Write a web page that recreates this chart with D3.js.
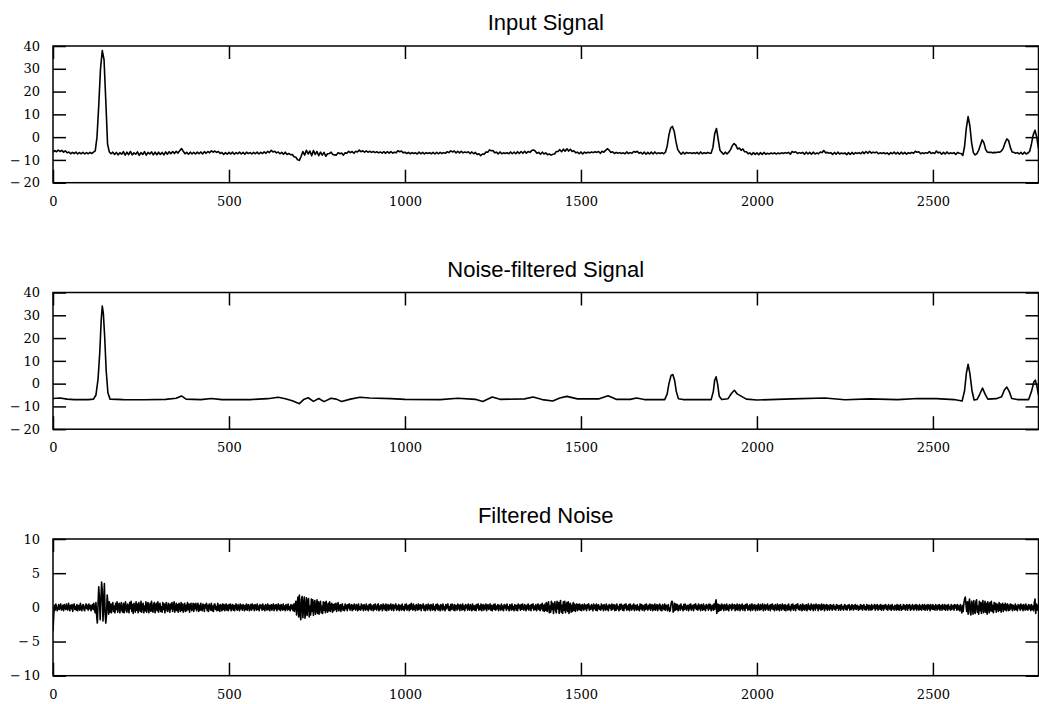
<!DOCTYPE html>
<html>

<head>
  <meta charset="utf-8">
  <title>Signal Filtering</title>
  <script src="https://cdn.jsdelivr.net/npm/d3@7/dist/d3.min.js"></script>
</head>

<body>
  <main id="container"></main>

  <script type="text/javascript">
    const signalStep = 5;

    const inputSignal = [
      -6.6, -5.9, -6.4, -5.7, -6.3, -5.8, -6.6, -6.0, -6.9, -6.5, -7.3, -6.7, -7.2, -6.6, -7.4, -6.8, -7.3, -6.7, -7.4, -6.8, // 0
      -7.3, -6.7, -7.2, -6.6, -6.0, 0.0, 14.0, 30.0, 38.0, 34.0, 16.0, -3.0, -6.5, -7.3, -6.6, -7.6, -6.7, -7.8, -6.8, -7.5, // 100
      -6.4, -7.9, -6.6, -7.7, -6.3, -7.8, -6.9, -7.5, -6.5, -8.0, -6.8, -7.6, -6.4, -7.9, -6.7, -7.4, -6.5, -7.8, -6.6, -7.7, // 200
      -6.6, -7.6, -6.7, -7.8, -6.5, -7.5, -6.4, -7.3, -6.3, -7.2, -6.2, -7.0, -6.0, -5.0, -6.2, -7.3, -6.7, -7.5, -6.6, -7.4, // 300
      -6.7, -7.4, -6.6, -7.3, -6.5, -7.4, -6.4, -7.1, -6.3, -6.9, -6.0, -6.6, -6.1, -6.7, -6.3, -7.2, -6.7, -7.6, -6.8, -7.5, // 400
      -6.7, -7.4, -6.6, -7.5, -6.8, -7.3, -6.6, -7.4, -6.7, -7.5, -6.6, -7.2, -6.8, -7.4, -6.7, -7.3, -6.6, -7.4, -6.7, -7.2, // 500
      -6.5, -7.1, -6.2, -6.8, -5.8, -6.5, -6.2, -6.9, -6.5, -7.3, -6.7, -7.5, -6.6, -7.6, -7.2, -7.7, -7.6, -8.6, -8.8, -9.9, // 600
      -10.2, -8.4, -6.3, -7.9, -5.8, -7.4, -6.1, -8.2, -5.9, -7.6, -6.3, -8.1, -6.6, -7.9, -6.7, -8.4, -7.3, -7.2, -6.6, -7.6, // 700
      -7.8, -7.9, -6.8, -7.3, -7.0, -7.9, -6.9, -7.1, -6.2, -6.8, -6.3, -7.1, -6.2, -6.5, -5.7, -6.4, -6.0, -6.6, -6.1, -6.6, // 800
      -6.2, -6.7, -6.3, -6.8, -6.4, -6.9, -6.5, -7.0, -6.4, -7.1, -6.3, -7.0, -6.3, -7.0, -6.6, -6.9, -6.0, -6.4, -6.1, -6.9, // 900
      -6.6, -7.2, -6.7, -7.3, -6.8, -7.2, -6.9, -7.4, -6.6, -7.3, -6.7, -7.4, -6.8, -7.2, -6.8, -7.3, -6.7, -7.4, -6.7, -7.3, // 1000
      -6.7, -7.2, -6.8, -7.1, -6.4, -6.8, -6.0, -6.5, -6.1, -6.9, -6.2, -6.9, -6.2, -6.9, -6.5, -6.8, -6.4, -7.2, -6.5, -7.3, // 1100
      -6.7, -7.6, -7.3, -8.1, -7.4, -7.5, -6.5, -6.6, -5.6, -6.0, -5.9, -6.9, -6.6, -7.4, -6.5, -7.3, -6.9, -7.2, -6.8, -7.3, // 1200
      -6.5, -7.3, -6.6, -7.3, -6.4, -7.2, -6.3, -7.1, -6.2, -7.0, -6.3, -6.7, -5.9, -5.6, -6.1, -7.1, -6.7, -7.5, -6.6, -7.4, // 1300
      -6.9, -7.7, -7.4, -7.9, -7.5, -7.4, -6.3, -6.3, -5.5, -6.4, -5.3, -6.2, -5.1, -6.1, -5.3, -6.3, -6.0, -6.9, -6.6, -7.3, // 1400
      -6.5, -7.4, -6.6, -7.0, -6.6, -6.9, -6.5, -6.8, -6.4, -6.7, -6.3, -7.1, -6.2, -6.6, -5.8, -5.1, -5.7, -6.7, -6.4, -7.2, // 1500
      -6.7, -7.1, -6.8, -7.2, -6.9, -7.3, -6.5, -7.2, -6.8, -7.1, -6.3, -6.6, -6.2, -7.1, -6.7, -7.4, -6.6, -7.5, -6.7, -7.4, // 1600
      -6.6, -7.4, -6.5, -7.3, -6.9, -7.2, -6.8, -7.3, -6.6, -4.0, 1.0, 4.0, 4.7, 2.5, -2.0, -5.5, -6.6, -7.5, -6.6, -7.4, // 1700
      -6.7, -7.1, -6.8, -7.2, -6.9, -7.2, -6.7, -7.4, -6.5, -7.3, -6.8, -7.2, -6.7, -7.1, -7.0, -4.5, 1.5, 3.8, -1.0, -5.8, // 1800
      -6.7, -7.5, -6.6, -7.4, -6.6, -5.5, -3.8, -2.8, -3.5, -5.2, -4.8, -5.8, -5.2, -6.4, -6.4, -7.3, -6.9, -7.7, -6.8, -7.6, // 1900
      -6.9, -7.7, -6.8, -7.6, -6.7, -7.5, -7.1, -7.4, -7.0, -7.3, -6.9, -7.4, -7.0, -7.3, -6.9, -7.2, -6.8, -7.1, -6.7, -7.5, // 2000
      -6.3, -6.7, -6.4, -7.2, -6.8, -7.1, -6.7, -7.5, -6.6, -7.4, -6.7, -7.5, -6.6, -7.4, -7.0, -7.3, -6.5, -6.8, -5.9, -6.9, // 2100
      -6.7, -7.1, -6.8, -7.6, -6.7, -7.5, -6.6, -7.4, -7.0, -7.3, -6.9, -7.7, -6.8, -7.6, -6.7, -7.5, -6.8, -7.2, -6.8, -7.3, // 2200
      -6.5, -7.2, -6.3, -7.1, -6.2, -7.0, -6.6, -6.9, -6.5, -7.3, -6.9, -7.2, -6.8, -7.3, -6.9, -7.6, -6.8, -7.3, -6.6, -7.4, // 2300
      -6.7, -7.5, -6.6, -7.4, -6.7, -7.5, -6.8, -7.2, -6.7, -7.1, -6.2, -6.6, -6.4, -7.3, -6.9, -7.2, -6.8, -7.1, -6.3, -7.2, // 2400
      -6.8, -7.2, -6.1, -6.9, -6.6, -7.5, -6.7, -7.4, -6.5, -7.3, -6.9, -7.2, -6.8, -7.6, -6.7, -7.1, -7.2, -8.0, -4.0, 4.0, // 2500
      9.0, 5.0, -2.5, -6.8, -7.8, -7.2, -5.8, -3.5, -1.2, -2.5, -5.5, -6.6, -6.7, -6.6, -6.9, -6.7, -6.8, -6.5, -6.6, -6.0, // 2600
      -4.8, -2.5, -0.8, -1.5, -4.5, -6.5, -6.7, -7.1, -6.8, -7.4, -6.7, -7.5, -6.6, -7.4, -7.0, -6.2, -3.0, 1.0, 3.0, 0.0, // 2700
      -5.0 // 2800
    ];

    // smooth curve, so [x, y] pairs only where it bends
    const filteredSignal = [
      [0, -6.5], [20, -6.3], [40, -6.8], [60, -7.0], [100, -7.0], [115, -6.8], [122, -5], [128, 2], [133, 14],
      [137, 28], [140, 34], [143, 31], [147, 20], [151, 6], [156, -4], [162, -6.8], [200, -7.0], [260, -7.1],
      [320, -6.9], [350, -6.4], [365, -5.4], [378, -6.8], [420, -7.0], [450, -6.5], [480, -7.0], [560, -7.0],
      [610, -6.6], [640, -6.0], [660, -6.6], [680, -7.5], [700, -8.8], [712, -7.0], [725, -6.2], [740, -7.8],
      [755, -6.5], [770, -7.9], [790, -6.4], [805, -6.8], [820, -7.8], [845, -6.8], [872, -6.0], [900, -6.3],
      [960, -6.6], [1000, -6.9], [1100, -7.0], [1150, -6.4], [1200, -6.9], [1221, -7.8], [1248, -5.9],
      [1270, -6.9], [1340, -6.7], [1364, -5.9], [1390, -7.0], [1420, -7.6], [1440, -6.3], [1460, -5.6],
      [1490, -6.7], [1550, -6.7], [1577, -5.3], [1600, -6.9], [1640, -6.9], [1658, -6.3], [1680, -7.0],
      [1738, -7.0], [1745, -4.5], [1750, 0], [1756, 3.6], [1761, 4.0], [1766, 1.5], [1771, -3.5], [1777, -6.6],
      [1790, -7.0], [1870, -7.0], [1876, -3.5], [1880, 1.5], [1884, 3.0], [1888, 0], [1893, -5.5], [1900, -7.0],
      [1918, -6.6], [1928, -4.2], [1936, -2.9], [1944, -4.5], [1955, -5.5], [1970, -6.8], [2000, -7.2],
      [2100, -6.7], [2193, -6.3], [2250, -7.1], [2320, -6.7], [2400, -7.0], [2457, -6.5], [2510, -6.6],
      [2560, -7.0], [2583, -7.6], [2590, -3], [2595, 4.5], [2600, 8.5], [2605, 4.5], [2611, -3], [2617, -7.2],
      [2625, -7.0], [2632, -5], [2641, -2.0], [2648, -4.5], [2656, -6.8], [2680, -6.6], [2695, -5.8],
      [2703, -2.8], [2710, -1.5], [2717, -3.5], [2724, -6.5], [2740, -7.0], [2772, -7.0], [2780, -3.5],
      [2787, 0.8], [2791, 1.5], [2796, -1.5], [2800, -5.0]
    ];

    // the noise is sampled finer, every 2 units of x (50 values per 100)
    const noiseStep = 2;

    const filteredNoise = [
      // 0
      -3.5, -1.2, 0.3, -0.4, 0.5, 0.1, -0.5, -0.2, 0.4, -0.3,
      0.2, 0.5, -0.4, -0.1, 0.3, -0.5, 0.4, 0.0, -0.3, 0.5,
      -0.2, -0.4, 0.6, 0.1, -0.5, 0.3, -0.2, 0.4, -0.6, 0.2,
      0.5, -0.3, 0.1, -0.4, 0.4, -0.5, 0.2, 0.3, -0.4, 0.6,
      -0.1, -0.5, 0.3, 0.4, -0.3, -0.5, 0.2, 0.5, -0.2, 0.3,
      // 100
      -0.4, 0.5, -0.2, 0.3, -0.5, 0.1, 0.4, -0.3, 0.6, -0.4,
      -0.8, 0.7, -1.2, -2.3, 0.5, 3.0, 1.2, -1.8, 0.9, 3.7,
      2.5, -2.0, 0.4, 3.5, -0.8, -2.3, -1.1, 1.8, 0.6, -1.0,
      0.8, -0.7, 0.5, -0.8, 0.3, 0.7, -0.6, 0.2, -0.8, 0.6,
      -0.3, 0.8, -0.7, 0.4, 0.6, -0.8, 0.1, 0.7, -0.5, -0.7,
      // 200
      0.6, -0.8, 0.3, 0.8, -0.5, -0.7, 0.5, 0.2, -0.8, 0.7,
      -0.2, 0.9, -0.6, 0.4, -0.9, 0.6, 0.1, -0.7, 0.8, -0.4,
      0.5, -0.8, 0.7, -0.1, -0.6, 0.9, -0.7, 0.3, 0.6, -0.8,
      0.2, -0.5, 0.8, -0.7, 0.4, 0.7, -0.8, -0.2, 0.6, -0.6,
      0.9, -0.3, -0.7, 0.5, 0.7, -0.8, 0.2, 0.6, -0.5, 0.8,
      // 300
      -0.7, 0.4, 0.6, -0.6, 0.1, -0.7, 0.7, -0.3, 0.5, -0.8,
      0.3, 0.7, -0.5, -0.6, 0.6, 0.2, -0.7, 0.5, -0.2, 0.7,
      -0.6, 0.3, 0.8, -0.7, -0.1, 0.6, -0.5, 0.4, -0.7, 0.6,
      0.2, -0.6, 0.7, -0.4, 0.5, -0.7, 0.1, 0.6, -0.6, 0.3,
      -0.5, 0.7, -0.3, 0.5, -0.7, 0.4, 0.6, -0.5, -0.2, 0.6,
      // 400
      -0.6, 0.5, -0.2, 0.6, -0.5, 0.1, 0.6, -0.6, 0.3, -0.4,
      0.6, -0.3, -0.5, 0.5, 0.2, -0.6, 0.4, -0.1, 0.6, -0.5,
      0.3, -0.6, 0.5, 0.1, -0.4, 0.6, -0.5, 0.2, -0.6, 0.4,
      0.5, -0.3, 0.1, -0.5, 0.6, -0.4, 0.3, -0.6, 0.4, 0.2,
      -0.5, 0.5, -0.3, 0.4, -0.5, 0.1, 0.5, -0.4, 0.3, -0.5,
      // 500
      0.4, -0.2, 0.5, -0.5, 0.1, 0.4, -0.4, 0.3, -0.5, 0.2,
      0.5, -0.3, -0.4, 0.4, 0.0, -0.5, 0.5, -0.2, 0.3, -0.4,
      0.4, 0.1, -0.5, 0.3, -0.3, 0.5, -0.4, 0.2, 0.4, -0.5,
      -0.1, 0.4, -0.4, 0.5, -0.2, 0.3, -0.5, 0.4, 0.1, -0.4,
      0.5, -0.3, 0.2, -0.5, 0.4, -0.1, 0.3, -0.4, 0.5, -0.3,
      // 600
      0.2, -0.5, 0.4, 0.1, -0.4, 0.5, -0.3, 0.3, -0.5, 0.2,
      0.4, -0.4, 0.1, 0.5, -0.5, 0.3, -0.2, 0.4, -0.5, 0.1,
      0.5, -0.3, 0.3, -0.5, 0.4, -0.1, -0.4, 0.5, -0.3, 0.2,
      -0.5, 0.4, 0.2, -0.4, 0.5, -0.3, 0.1, -0.5, 0.4, -0.2,
      0.3, -0.5, 0.5, -0.6, 0.4, 0.9, -1.1, 0.6, 1.5, -1.4,
      // 700
      1.8, -0.9, -1.8, 1.2, 1.6, -1.5, 0.4, 1.5, -1.6, -0.5,
      1.4, -1.2, 0.9, 1.3, -1.4, 0.2, -1.1, 1.2, -0.6, 1.1,
      -1.2, 0.5, 1.0, -1.0, -0.3, 1.1, -0.9, 0.8, -1.0, 0.4,
      0.9, -0.8, 0.2, -0.9, 0.8, -0.4, 0.7, -0.8, 0.9, -0.2,
      -0.7, 0.6, -0.5, 0.8, -0.6, 0.3, 0.6, -0.7, 0.4, -0.5,
      // 800
      0.5, -0.3, 0.6, -0.6, 0.2, 0.7, -0.5, -0.2, 0.4, -0.6,
      0.3, 0.5, -0.4, 0.1, -0.5, 0.5, -0.2, 0.3, -0.5, 0.4,
      -0.1, 0.5, -0.4, 0.2, 0.4, -0.5, 0.3, -0.3, 0.5, -0.1,
      -0.4, 0.4, 0.2, -0.5, 0.5, -0.3, 0.1, -0.4, 0.5, -0.2,
      0.3, -0.5, 0.4, 0.0, -0.4, 0.5, -0.3, 0.2, -0.5, 0.4,
      // 900
      -0.2, 0.5, -0.4, 0.3, 0.1, -0.5, 0.4, -0.3, 0.5, -0.1,
      -0.4, 0.3, 0.5, -0.5, 0.2, -0.3, 0.4, 0.1, -0.5, 0.5,
      -0.2, 0.3, -0.4, 0.5, -0.5, 0.1, 0.4, -0.4, 0.3, -0.2,
      0.5, -0.4, 0.1, 0.4, -0.5, 0.3, -0.1, 0.5, -0.4, 0.2,
      -0.3, 0.4, -0.5, 0.3, 0.2, -0.4, 0.5, -0.3, 0.1, -0.5,
      // 1000
      0.4, -0.2, 0.5, -0.4, 0.1, 0.3, -0.5, 0.4, -0.3, 0.6,
      -0.1, -0.4, 0.5, -0.3, 0.2, -0.5, 0.4, 0.1, -0.4, 0.5,
      -0.3, 0.2, 0.4, -0.5, 0.3, -0.1, 0.5, -0.4, 0.2, -0.5,
      0.4, 0.0, -0.4, 0.5, -0.2, 0.3, -0.5, 0.4, 0.2, -0.4,
      0.5, -0.3, 0.1, -0.5, 0.4, -0.2, 0.5, -0.4, 0.3, -0.1,
      // 1100
      -0.5, 0.4, 0.2, -0.4, 0.5, -0.3, 0.1, -0.5, 0.4, -0.2,
      0.3, 0.5, -0.4, 0.1, -0.5, 0.4, -0.3, 0.5, -0.1, -0.4,
      0.4, -0.5, 0.3, 0.2, -0.4, 0.5, -0.2, 0.3, -0.5, 0.4,
      0.1, -0.4, 0.5, -0.3, 0.2, -0.5, 0.4, -0.1, 0.3, -0.4,
      0.5, -0.2, -0.4, 0.4, 0.1, -0.5, 0.5, -0.3, 0.2, -0.4,
      // 1200
      0.3, -0.5, 0.4, -0.1, 0.5, -0.4, 0.2, -0.3, 0.5, -0.5,
      0.1, 0.4, -0.4, 0.3, -0.2, 0.5, -0.5, 0.2, 0.4, -0.3,
      -0.1, 0.5, -0.4, 0.3, -0.5, 0.1, 0.4, -0.3, 0.5, -0.4,
      0.2, -0.2, 0.4, -0.5, 0.3, 0.1, -0.4, 0.5, -0.3, 0.2,
      -0.5, 0.4, -0.1, 0.3, -0.4, 0.5, -0.2, 0.1, -0.5, 0.4,
      // 1300
      0.2, -0.4, 0.5, -0.3, 0.1, -0.5, 0.4, 0.2, -0.4, 0.3,
      -0.5, 0.5, -0.1, 0.3, -0.4, 0.4, -0.3, 0.5, -0.2, -0.4,
      0.4, 0.1, -0.5, 0.3, -0.2, 0.5, -0.4, 0.2, 0.3, -0.5,
      0.4, -0.1, 0.5, -0.4, 0.2, -0.3, 0.4, -0.5, 0.1, 0.5,
      -0.3, 0.3, -0.5, 0.4, -0.2, 0.6, -0.5, 0.3, -0.6, 0.5,
      // 1400
      -0.4, 0.7, -0.6, 0.3, 0.8, -0.8, 0.2, -0.7, 0.9, -0.3,
      0.6, -0.9, 0.4, 0.8, -0.5, -0.8, 0.9, -0.2, 0.7, -0.9,
      0.5, 1.0, -0.7, 0.3, -0.9, 0.8, -0.4, 0.9, -0.8, 0.2,
      0.7, -0.6, 0.8, -0.9, 0.4, 0.6, -0.7, 0.3, -0.6, 0.7,
      -0.4, 0.5, -0.6, 0.2, 0.5, -0.5, 0.4, -0.3, 0.5, -0.4,
      // 1500
      0.3, -0.5, 0.4, 0.1, -0.4, 0.5, -0.2, 0.3, -0.5, 0.4,
      -0.1, 0.5, -0.4, 0.2, -0.3, 0.4, 0.1, -0.5, 0.5, -0.2,
      0.3, -0.4, 0.5, -0.5, 0.2, 0.4, -0.3, 0.1, -0.4, 0.5,
      -0.2, 0.3, -0.5, 0.4, 0.0, -0.4, 0.5, -0.3, 0.2, -0.5,
      0.4, -0.1, 0.3, -0.4, 0.5, -0.3, 0.2, 0.4, -0.5, 0.3,
      // 1600
      -0.4, 0.5, -0.2, 0.1, -0.5, 0.4, -0.3, 0.5, 0.2, -0.4,
      0.3, -0.5, 0.4, -0.1, 0.5, -0.4, 0.2, -0.3, 0.4, -0.5,
      0.5, 0.1, -0.4, 0.3, -0.2, 0.5, -0.5, 0.3, 0.2, -0.4,
      0.4, -0.3, 0.1, -0.5, 0.5, -0.2, 0.4, -0.4, 0.3, 0.1,
      -0.5, 0.4, -0.3, 0.5, -0.1, -0.4, 0.3, -0.2, 0.5, -0.4,
      // 1700
      0.2, 0.4, -0.5, 0.3, -0.3, 0.5, -0.4, 0.1, 0.4, -0.5,
      0.3, -0.2, 0.5, -0.4, 0.2, -0.5, 0.4, 0.0, -0.3, 0.5,
      -0.4, 0.3, 0.2, -0.5, 0.4, -0.1, -0.6, -0.4, 0.5, 0.9,
      0.8, -0.7, -0.5, 0.6, -0.4, 0.5, -0.3, 0.4, -0.5, 0.2,
      0.3, -0.4, 0.5, -0.2, 0.1, -0.5, 0.4, -0.3, 0.5, -0.1,
      // 1800
      -0.4, 0.3, 0.2, -0.5, 0.4, -0.2, 0.5, -0.4, 0.1, 0.3,
      -0.5, 0.4, -0.1, 0.5, -0.3, 0.2, -0.4, 0.5, -0.2, 0.3,
      -0.5, 0.4, 0.1, -0.4, 0.5, -0.3, 0.2, -0.5, 0.4, -0.1,
      0.3, -0.4, 0.5, -0.2, 0.4, -0.5, 0.1, 0.3, -0.4, 0.5,
      -0.3, 0.6, 1.1, -0.9, 0.5, -0.6, 0.4, -0.5, 0.3, -0.4,
      // 1900
      0.5, -0.2, 0.3, -0.5, 0.4, 0.1, -0.4, 0.5, -0.3, 0.2,
      -0.5, 0.4, -0.1, 0.3, -0.4, 0.5, -0.2, 0.2, 0.4, -0.5,
      0.3, -0.3, 0.5, -0.4, 0.1, 0.4, -0.5, 0.3, -0.2, 0.5,
      -0.4, 0.2, 0.3, -0.5, 0.4, -0.1, 0.5, -0.4, 0.2, -0.3,
      0.4, -0.5, 0.1, 0.5, -0.4, 0.3, -0.2, 0.4, -0.5, 0.2,
      // 2000
      0.3, -0.4, 0.5, -0.1, -0.4, 0.4, -0.3, 0.2, 0.5, -0.5,
      0.1, 0.4, -0.4, 0.3, -0.2, 0.5, -0.4, 0.1, 0.3, -0.5,
      0.4, -0.2, 0.5, -0.3, 0.2, -0.5, 0.4, 0.0, -0.4, 0.5,
      -0.3, 0.3, -0.5, 0.4, 0.1, -0.4, 0.5, -0.2, 0.3, -0.4,
      0.4, -0.5, 0.2, 0.3, -0.4, 0.5, -0.3, 0.1, -0.5, 0.4,
      // 2100
      -0.2, 0.5, -0.4, 0.2, 0.3, -0.5, 0.4, -0.1, 0.5, -0.3,
      0.2, -0.4, 0.4, 0.1, -0.5, 0.5, -0.3, 0.3, -0.4, 0.2,
      0.4, -0.5, 0.1, 0.5, -0.3, 0.2, -0.4, 0.5, -0.2, 0.3,
      -0.5, 0.4, 0.2, -0.4, 0.5, -0.1, 0.3, -0.5, 0.4, -0.2,
      0.3, -0.4, 0.5, -0.3, 0.1, 0.4, -0.5, 0.3, -0.2, 0.4,
      // 2200
      -0.4, 0.3, 0.1, -0.4, 0.4, -0.2, 0.3, -0.4, 0.2, 0.4,
      -0.3, 0.1, -0.4, 0.4, -0.1, 0.3, -0.4, 0.2, 0.3, -0.4,
      0.4, -0.2, 0.1, -0.4, 0.3, 0.4, -0.3, 0.2, -0.4, 0.3,
      -0.1, 0.4, -0.4, 0.2, -0.3, 0.4, 0.1, -0.4, 0.3, -0.2,
      0.4, -0.3, 0.2, 0.3, -0.4, 0.1, -0.3, 0.4, -0.2, 0.3,
      // 2300
      -0.4, 0.2, 0.4, -0.3, 0.1, -0.4, 0.4, -0.2, 0.3, -0.4,
      0.3, 0.1, -0.4, 0.4, -0.3, 0.2, -0.1, 0.4, -0.4, 0.3,
      -0.2, 0.4, -0.4, 0.1, 0.3, -0.3, 0.4, -0.4, 0.2, 0.3,
      -0.4, 0.3, -0.1, 0.4, -0.3, 0.2, -0.4, 0.4, 0.1, -0.3,
      0.3, -0.4, 0.4, -0.2, 0.1, -0.4, 0.3, 0.2, -0.4, 0.4,
      // 2400
      -0.3, 0.3, -0.4, 0.2, 0.4, -0.4, 0.1, -0.3, 0.4, -0.2,
      0.3, -0.4, 0.2, 0.4, -0.4, 0.3, -0.1, 0.4, -0.4, 0.2,
      -0.3, 0.4, 0.1, -0.4, 0.3, -0.2, 0.4, -0.4, 0.3, 0.1,
      -0.4, 0.4, -0.3, 0.2, -0.4, 0.4, 0.1, -0.3, 0.4, -0.4,
      0.2, 0.3, -0.4, 0.4, -0.2, 0.3, -0.5, 0.4, -0.1, -0.3,
      // 2500
      0.4, -0.3, 0.2, -0.4, 0.4, 0.1, -0.4, 0.3, -0.2, 0.4,
      -0.4, 0.2, 0.3, -0.4, 0.4, -0.1, -0.3, 0.4, -0.4, 0.2,
      0.3, -0.4, 0.4, -0.2, 0.1, -0.4, 0.4, -0.3, 0.2, 0.3,
      -0.4, 0.4, -0.1, 0.3, -0.4, 0.4, -0.3, 0.2, -0.5, 0.4,
      -0.2, -0.8, 0.3, -0.6, 0.6, 1.2, 1.5, 0.4, -0.6, 0.8,
      // 2600
      -1.0, 0.6, 1.2, -0.8, -1.1, 0.9, 0.3, -1.0, 1.0, -0.4,
      -0.9, 0.8, 1.1, -0.7, 0.2, -1.0, 0.9, -0.5, 0.7, -0.9,
      0.4, 1.0, -0.8, -0.3, 0.9, -0.7, 0.6, -1.0, 0.8, 0.1,
      -0.8, 0.7, -0.5, 0.9, -0.6, 0.3, -0.8, 0.7, -0.3, 0.6,
      -0.7, 0.5, 0.2, -0.6, 0.7, -0.4, 0.5, -0.7, 0.3, 0.6,
      // 2700
      -0.6, 0.4, -0.3, 0.6, -0.5, 0.2, 0.5, -0.5, 0.3, -0.4,
      0.5, -0.2, 0.4, -0.5, 0.3, 0.1, -0.4, 0.5, -0.3, 0.2,
      -0.5, 0.4, -0.1, 0.3, -0.4, 0.5, -0.2, 0.3, -0.5, 0.4,
      0.1, -0.4, 0.5, -0.3, 0.2, -0.4, 0.4, -0.2, 0.3, -0.5,
      0.4, -0.3, 0.2, -0.5, 0.6, 1.2, -0.9, 0.5, -0.4, 0.3,
      // 2800
      0.2
    ];

    const xTicks = [0, 500, 1000, 1500, 2000, 2500];
    const signalTicks = [-20, -10, 0, 10, 20, 30, 40];
    const noiseTicks = [-10, -5, 0, 5, 10];

    const panels = [
      { title: "Input Signal", points: inputSignal.map((v, i) => [i * signalStep, v]), yDomain: [-20, 40], yTicks: signalTicks, top: 46 },
      { title: "Noise-filtered Signal", points: filteredSignal, yDomain: [-20, 40], yTicks: signalTicks, top: 292.5 },
      { title: "Filtered Noise", points: filteredNoise.map((v, i) => [i * noiseStep, v]), yDomain: [-10, 10], yTicks: noiseTicks, top: 539 },
    ];

    const vizWidth = 1039;
    const vizHeight = 704;
    const left = 53;
    const right = 1038.5;
    const plotHeight = 136.7;
    const tick = 13;
    // tex-style long minus with a little gap before the digits
    const fmt = d => (d < 0 ? "\u2212\u2009" : "") + Math.abs(d);

    const svg = d3.select("#container")
      .append("svg")
      .attr("width", vizWidth)
      .attr("height", vizHeight)

    const x = d3.scaleLinear()
      .domain([0, 2800])
      .range([left, right])

    panels.forEach((p, k) => {
      const y = d3.scaleLinear()
        .domain(p.yDomain)
        .range([p.top + plotHeight, p.top])

      const g = svg.append("g")

      g.append("clipPath")
        .attr("id", "clip" + k)
        .append("rect")
        .attr("x", left)
        .attr("y", p.top)
        .attr("width", right - left)
        .attr("height", plotHeight)

      // ticks pointing inward on all four sides, labels only bottom and left
      g.append("g")
        .attr("class", "axis")
        .attr("transform", `translate(0,${p.top + plotHeight})`)
        .call(d3.axisBottom(x).tickValues(xTicks).tickFormat(fmt).tickSizeInner(-tick).tickSizeOuter(0).tickPadding(14))

      g.append("g")
        .attr("class", "axis")
        .attr("transform", `translate(0,${p.top})`)
        .call(d3.axisTop(x).tickValues(xTicks).tickSizeInner(-tick).tickSizeOuter(0).tickFormat(""))

      g.append("g")
        .attr("class", "axis")
        .attr("transform", `translate(${left},0)`)
        .call(d3.axisLeft(y).tickValues(p.yTicks).tickFormat(fmt).tickSizeInner(-tick).tickSizeOuter(0).tickPadding(13))

      g.append("g")
        .attr("class", "axis")
        .attr("transform", `translate(${right},0)`)
        .call(d3.axisRight(y).tickValues(p.yTicks).tickSizeInner(-tick).tickSizeOuter(0).tickFormat(""))

      g.selectAll(".axis .domain").remove()

      g.append("rect")
        .attr("x", left)
        .attr("y", p.top)
        .attr("width", right - left)
        .attr("height", plotHeight)
        .attr("fill", "none")
        .attr("stroke", "#000")
        .attr("stroke-width", 1.5)

      g.append("path")
        .datum(p.points)
        .attr("clip-path", `url(#clip${k})`)
        .attr("fill", "none")
        .attr("stroke", "#000")
        .attr("stroke-width", 1.6)
        .attr("stroke-linejoin", "round")
        .attr("d", d3.line().x(d => x(d[0])).y(d => y(d[1])))

      g.append("text")
        .attr("class", "title")
        .attr("x", (left + right) / 2)
        .attr("y", p.top - 16)
        .attr("text-anchor", "middle")
        .text(p.title)
    })

  </script>
  <style>
    body {
      margin: 0;
      background: #fff;
    }

    svg {
      display: block;
    }

    .axis text {
      font-family: "DejaVu Serif", serif;
      font-size: 13px;
      fill: #000;
    }

    .axis line {
      stroke: #000;
      stroke-width: 1.5;
    }

    .title {
      font-family: "Liberation Sans", Arial, sans-serif;
      font-size: 22px;
      fill: #000;
    }
  </style>

</body>

</html>
